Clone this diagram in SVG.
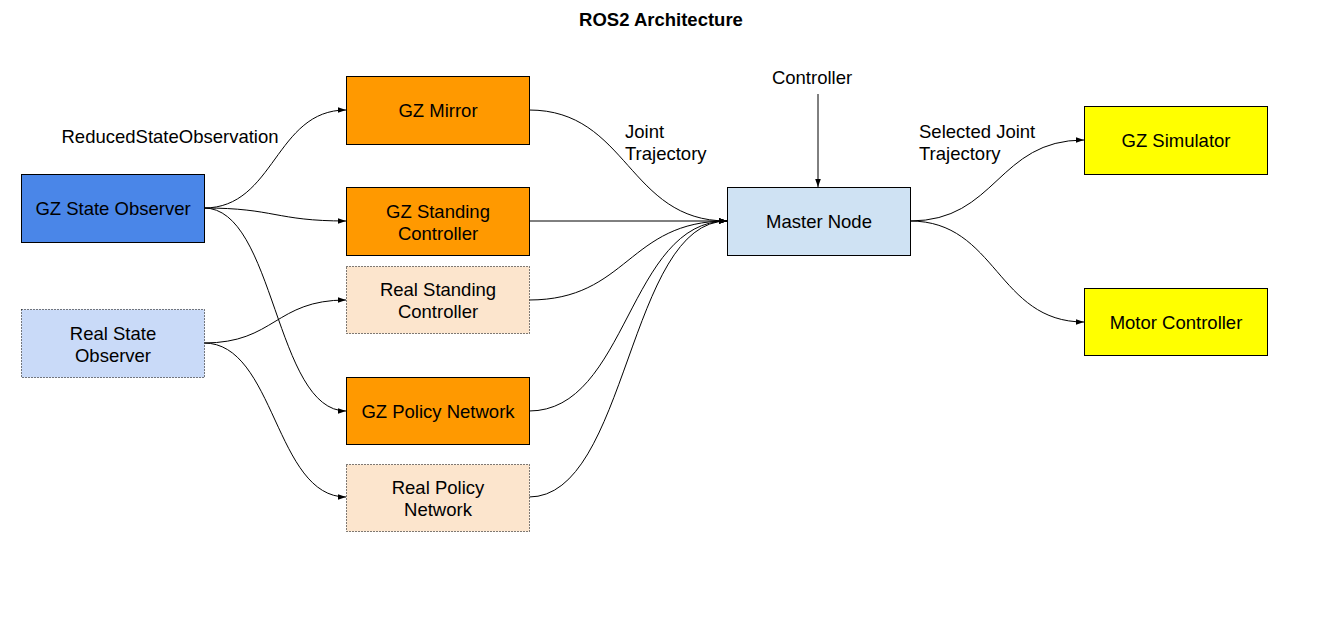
<svg xmlns="http://www.w3.org/2000/svg" width="1323" height="637" viewBox="0 0 1323 637">
<defs>
<style>
.t{font-family:"Liberation Sans",Arial,sans-serif;font-size:18.5px;fill:#000;text-anchor:middle}
.l{font-family:"Liberation Sans",Arial,sans-serif;font-size:18.5px;fill:#000}
.n{stroke:#000;stroke-width:1}
.d{stroke:#000;stroke-width:1;stroke-dasharray:1 2}
.c{fill:none;stroke:#000;stroke-width:1;marker-end:url(#a)}
</style>
<marker id="a" viewBox="0 0 10 10" refX="10" refY="5" markerWidth="8" markerHeight="8" markerUnits="userSpaceOnUse" orient="auto">
<path d="M0,1.5 L10,5 L0,8.5 z" fill="#000"/>
</marker>
</defs>
<rect width="1323" height="637" fill="#fff"/>
<text x="661" y="26" class="t" style="font-weight:bold">ROS2 Architecture</text>

<g id="connectors">
<path class="c" d="M204,208 C275,208 275,110 346,110"/>
<path class="c" d="M204,208 C275,208 275,221 346,221"/>
<path class="c" d="M204,208 C275,208 275,411 346,411"/>
<path class="c" d="M204,343 C275,343 275,300 346,300"/>
<path class="c" d="M204,343 C275,343 275,497 346,497"/>
<path class="c" d="M529,110 C628,110 628,221 727,221"/>
<path class="c" d="M529,221 L727,221"/>
<path class="c" d="M529,300 C628,300 628,221 727,221"/>
<path class="c" d="M529,411 C628,411 628,221 727,221"/>
<path class="c" d="M529,497 C628,497 628,221 727,221"/>
<path class="c" d="M910,221 C997,221 997,140 1084,140"/>
<path class="c" d="M910,221 C997,221 997,322 1084,322"/>
<path class="c" d="M818,94 L818,187"/>
<text class="t" x="170" y="143">ReducedStateObservation</text>
<text class="l" x="625" y="138">Joint</text>
<text class="l" x="625" y="160">Trajectory</text>
<text class="l" x="919" y="138">Selected Joint</text>
<text class="l" x="919" y="160">Trajectory</text>
<text class="t" x="812" y="84">Controller</text>
</g>

<g id="gz-state-observer">
<rect class="n" x="21.5" y="174.5" width="183" height="68" fill="#4a86e8"/>
<text class="t" x="113" y="215">GZ State Observer</text>
</g>
<g id="real-state-observer">
<rect class="d" x="21.5" y="309.5" width="183" height="68" fill="#c9daf8"/>
<text class="t" x="113" y="340">Real State</text>
<text class="t" x="113" y="362">Observer</text>
</g>
<g id="gz-mirror">
<rect class="n" x="346.5" y="76.5" width="183" height="68" fill="#ff9900"/>
<text class="t" x="438" y="117">GZ Mirror</text>
</g>
<g id="gz-standing-controller">
<rect class="n" x="346.5" y="187.5" width="183" height="68" fill="#ff9900"/>
<text class="t" x="438" y="218">GZ Standing</text>
<text class="t" x="438" y="240">Controller</text>
</g>
<g id="real-standing-controller">
<rect class="d" x="346.5" y="266.5" width="183" height="67" fill="#fce5cd"/>
<text class="t" x="438" y="296">Real Standing</text>
<text class="t" x="438" y="318">Controller</text>
</g>
<g id="gz-policy-network">
<rect class="n" x="346.5" y="377.5" width="183" height="67" fill="#ff9900"/>
<text class="t" x="438" y="418">GZ Policy Network</text>
</g>
<g id="real-policy-network">
<rect class="d" x="346.5" y="464.5" width="183" height="67" fill="#fce5cd"/>
<text class="t" x="438" y="494">Real Policy</text>
<text class="t" x="438" y="516">Network</text>
</g>
<g id="master-node">
<rect class="n" x="727.5" y="187.5" width="183" height="68" fill="#cfe2f3"/>
<text class="t" x="819" y="228">Master Node</text>
</g>
<g id="gz-simulator">
<rect class="n" x="1084.5" y="106.5" width="183" height="68" fill="#ffff00"/>
<text class="t" x="1176" y="147">GZ Simulator</text>
</g>
<g id="motor-controller">
<rect class="n" x="1084.5" y="288.5" width="183" height="67" fill="#ffff00"/>
<text class="t" x="1176" y="329">Motor Controller</text>
</g>
</svg>
